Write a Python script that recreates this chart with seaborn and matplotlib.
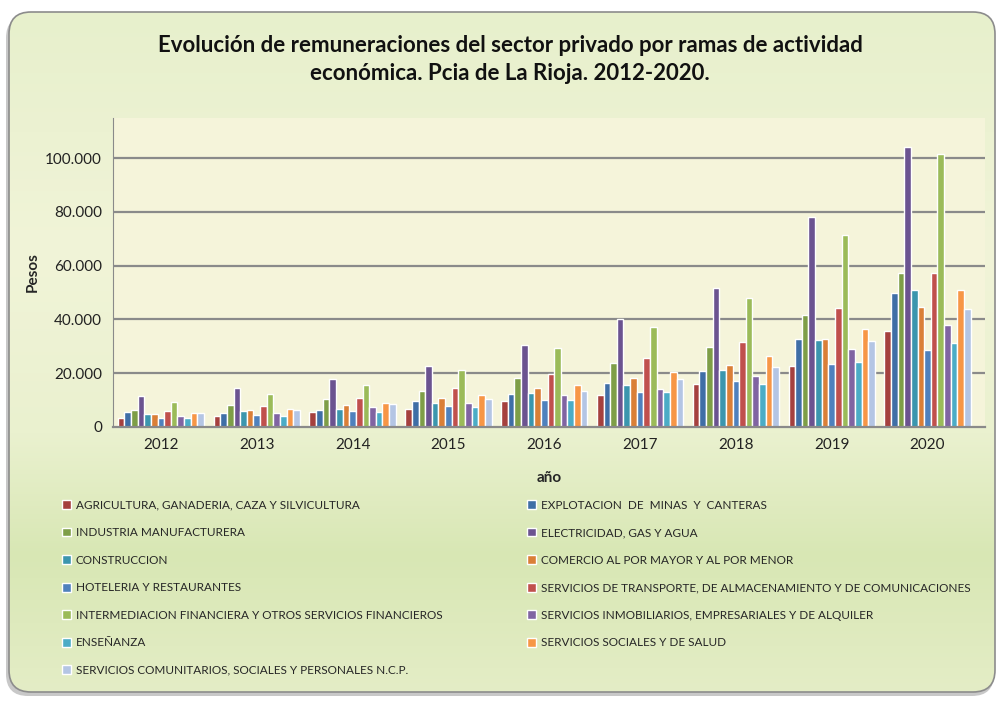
import numpy as np
import pandas as pd
import matplotlib
matplotlib.use("Agg")
import matplotlib.pyplot as plt
import seaborn as sns
from matplotlib.patches import FancyBboxPatch, Patch
from matplotlib.colors import LinearSegmentedColormap
from matplotlib.ticker import FuncFormatter

years = ["2012", "2013", "2014", "2015", "2016", "2017", "2018", "2019", "2020"]

sectores = [
    "AGRICULTURA, GANADERIA, CAZA Y SILVICULTURA",
    "EXPLOTACION  DE  MINAS  Y  CANTERAS",
    "INDUSTRIA MANUFACTURERA",
    "ELECTRICIDAD, GAS Y AGUA",
    "CONSTRUCCION",
    "COMERCIO AL POR MAYOR Y AL POR MENOR",
    "HOTELERIA Y RESTAURANTES",
    "SERVICIOS DE TRANSPORTE, DE ALMACENAMIENTO Y DE COMUNICACIONES",
    "INTERMEDIACION FINANCIERA Y OTROS SERVICIOS FINANCIEROS",
    "SERVICIOS INMOBILIARIOS, EMPRESARIALES Y DE ALQUILER",
    "ENSEÑANZA",
    "SERVICIOS SOCIALES Y DE SALUD",
    "SERVICIOS COMUNITARIOS, SOCIALES Y PERSONALES N.C.P.",
]

agricultura = [3200, 4100, 5500, 6800, 9700, 11800, 15900, 22700, 35700]
minas = [5600, 5300, 6300, 9600, 12300, 16300, 20800, 32600, 49800]
industria = [6200, 8100, 10500, 13500, 18000, 23900, 29800, 41700, 57200]
electricidad = [11500, 14300, 17800, 22600, 30500, 40100, 51700, 78200, 104100]
construccion = [4700, 5800, 6800, 8900, 12500, 15600, 21000, 32300, 50900]
comercio = [4700, 6100, 8300, 10800, 14400, 18000, 23000, 32600, 44500]
hoteleria = [3200, 4500, 5800, 7900, 10000, 13000, 16900, 23400, 28700]
transporte = [6000, 7800, 10800, 14600, 19800, 25600, 31400, 44200, 57200]
financiera = [9400, 12300, 15700, 21300, 29400, 37200, 48000, 71300, 101600]
inmobiliarios = [4000, 5100, 7200, 8800, 12000, 14100, 19000, 29100, 37800]
ensenanza = [3400, 4200, 5500, 7400, 9800, 12800, 16100, 24200, 31300]
sociales_salud = [5100, 6600, 8700, 11700, 15600, 20400, 26200, 36600, 51100]
comunitarios = [5100, 6300, 8600, 10500, 13500, 17800, 22200, 32000, 43800]

series = [agricultura, minas, industria, electricidad, construccion, comercio,
          hoteleria, transporte, financiera, inmobiliarios, ensenanza,
          sociales_salud, comunitarios]

colores = ["#A5403E", "#3F6EA6", "#7E9E47", "#6B5390", "#3B96AE", "#DA7F37",
           "#4F81BD", "#C0504D", "#9BBB59", "#8064A2", "#4BACC6", "#F79646",
           "#B4C5E4"]

rows = []
for nombre, valores in zip(sectores, series):
    for y, v in zip(years, valores):
        rows.append({"año": y, "sector": nombre, "pesos": v})
df = pd.DataFrame(rows)

sns.set_style("white")
plt.rcParams["font.family"] = ["Lato", "DejaVu Sans"]

fig = plt.figure(figsize=(10, 7.02), dpi=100)

# fondo con degradado dentro de un recuadro redondeado
bg = fig.add_axes([0, 0, 1, 1], zorder=-10)
bg.set_xlim(0, 1000)
bg.set_ylim(702, 0)
bg.axis("off")
shadow = FancyBboxPatch((6, 16), 988, 680, boxstyle="round,pad=0,rounding_size=22",
                        fc="#C8C8C8", ec="none", zorder=0)
bg.add_patch(shadow)
box = FancyBboxPatch((9, 12), 986, 680, boxstyle="round,pad=0,rounding_size=22",
                     fc="none", ec="#8C8C8C", lw=1.2, zorder=3)
bg.add_patch(box)
cmap = LinearSegmentedColormap.from_list(
    "fondo", [(0, "#E7F0CC"), (0.35, "#F1F4D8"), (0.62, "#EAF1CF"),
              (0.8, "#D8E7B4"), (1, "#E4EDC6")])
grad = np.linspace(0, 1, 256).reshape(-1, 1)
im = bg.imshow(grad, cmap=cmap, extent=[9, 995, 692, 12], aspect="auto", zorder=2)
im.set_clip_path(box)

ax = fig.add_axes([0.113, 0.392, 0.872, 0.44])
ax.set_facecolor("#F5F4DA")

sns.barplot(data=df, x="año", y="pesos", hue="sector", hue_order=sectores,
            palette=colores, width=0.9, gap=0, saturation=1, errorbar=None,
            ax=ax, legend=False, zorder=3)

ax.set_ylim(0, 115000)
ax.set_xlim(-0.5, 8.6)
ax.set_yticks(range(20000, 100001, 20000))
ax.set_yticks([0], minor=True)
ax.yaxis.set_major_formatter(FuncFormatter(lambda v, p: f"{v:,.0f}".replace(",", ".")))
ax.yaxis.set_minor_formatter(FuncFormatter(lambda v, p: "0"))
ax.grid(axis="y", which="major", color="#8A8A8A", lw=1.6, zorder=0)
ax.set_axisbelow(True)
for s in ["top", "right"]:
    ax.spines[s].set_visible(False)
ax.spines["left"].set_color("#8A8A8A")
ax.spines["bottom"].set_color("#8A8A8A")
ax.spines["bottom"].set_linewidth(1.6)
ax.spines["bottom"].set_zorder(5)
ax.tick_params(axis="both", which="both", length=0, labelsize=11, pad=8, colors="#222222")
ax.set_xlabel("año", fontsize=11, fontweight="bold", labelpad=14)
ax.set_ylabel("Pesos", fontsize=11, fontweight="bold", labelpad=4)

fig.text(0.51, 0.915, "Evolución de remuneraciones del sector privado por ramas de actividad\n"
         "económica. Pcia de La Rioja. 2012-2020.", ha="center", va="center",
         fontsize=16, fontweight="bold", linespacing=1.45, color="#111111")

handles = [Patch(facecolor=c) for c in colores]
izq = [0, 2, 4, 6, 8, 10, 12]
der = [1, 3, 5, 7, 9, 11]
kw = dict(frameon=False, fontsize=8.5, labelspacing=1.4, handlelength=0.75,
          handleheight=0.75, handletextpad=0.45, borderaxespad=0)
fig.legend([handles[i] for i in izq], [sectores[i] for i in izq],
           loc="upper left", bbox_to_anchor=(0.057, 1 - 495 / 702), **kw)
fig.legend([handles[i] for i in der], [sectores[i] for i in der],
           loc="upper left", bbox_to_anchor=(0.522, 1 - 495 / 702), **kw)

fig.savefig("out.png", dpi=100)
